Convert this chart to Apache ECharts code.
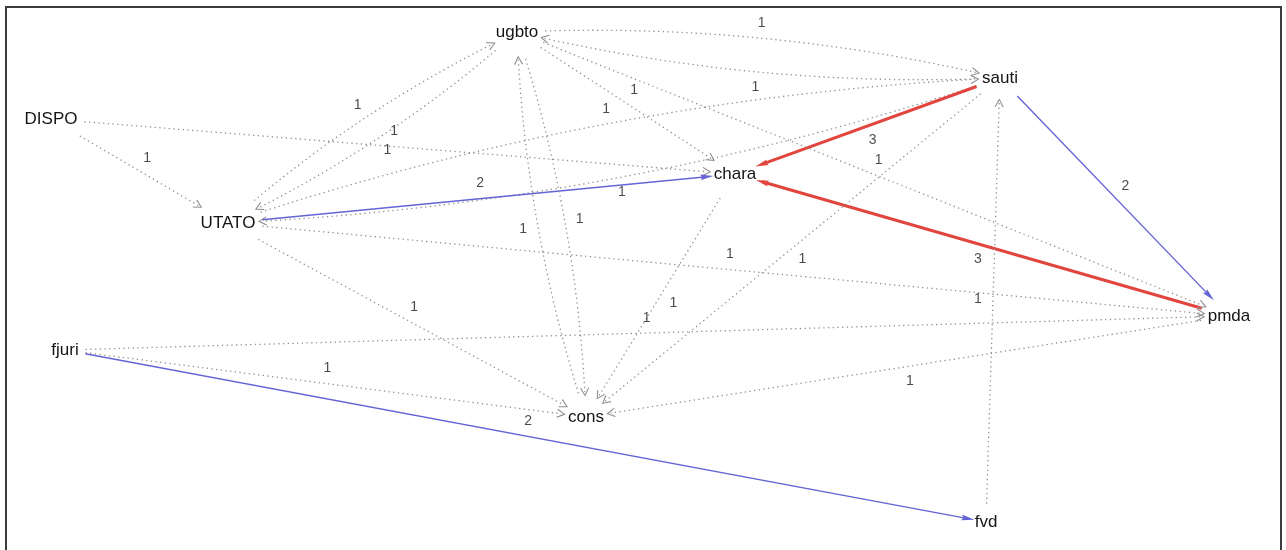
<!DOCTYPE html>
<html>
<head>
<meta charset="utf-8">
<title>network</title>
<script src="https://cdn.jsdelivr.net/npm/echarts@6/dist/echarts.min.js"></script>
<style>
  html, body { margin: 0; padding: 0; background: #fff; }
  #chart { width: 1286px; height: 550px; }
</style>
</head>
<body>
<div id="chart"></div>
<script>
// vertices and their layout position (picture space, y grows downward)
const nodeNames = ['ugbto', 'sauti', 'DISPO', 'chara', 'UTATO', 'pmda', 'fjuri', 'cons', 'fvd'];
const nodeX = [517, 1000, 51, 735, 228, 1229, 65, 586, 986];
const nodeY = [32, 78, 119, 174, 223, 316, 350, 417, 522];

// directed ties and their strength
const edgeFrom = ['ugbto', 'sauti', 'ugbto', 'UTATO', 'ugbto', 'UTATO', 'sauti', 'DISPO', 'DISPO',
  'sauti', 'UTATO', 'sauti', 'pmda', 'ugbto', 'ugbto', 'cons', 'UTATO', 'sauti', 'chara',
  'fjuri', 'UTATO', 'fvd', 'fjuri', 'pmda', 'fjuri'];
const edgeTo = ['sauti', 'ugbto', 'chara', 'ugbto', 'UTATO', 'sauti', 'UTATO', 'chara', 'UTATO',
  'chara', 'chara', 'pmda', 'chara', 'pmda', 'cons', 'ugbto', 'pmda', 'cons', 'cons',
  'pmda', 'cons', 'sauti', 'cons', 'cons', 'fvd'];
const edgeWeight = [1, 1, 1, 1, 1, 1, 1, 1, 1,
  3, 2, 2, 3, 1, 1, 1, 1, 1, 1,
  1, 1, 1, 1, 1, 2];

const FONT = '"Liberation Sans", Arial, sans-serif';
const CURVE = 0.07;        // bend of reciprocated ties
const LABEL_SHIFT = 15;    // edge label sits left of the travel direction

// look per tie strength
const weightStyle = {
  1: { color: '#8e8e8e', width: 1.3, type: [1.3, 3.4] },
  2: { color: '#6464d6', width: 1.4, type: 'solid' },
  3: { color: '#e2453e', width: 3, type: 'solid' }
};
const openArrow = 'path://M5,0 L10,9.2 L9,10 L5,2.4 L1,10 L0,9.2 Z';
const solidArrow = 'path://M10,0 L14.5,20 L10,17 L5.5,20 Z M0,0 L0.01,0 L0,0.01 Z M20,20 L19.99,20 L20,19.99 Z';

const chart = echarts.init(document.getElementById('chart'));

// label box of each vertex decides where ties stop
const ctx = document.createElement('canvas').getContext('2d');
ctx.font = '17px ' + FONT;

const idx = {};
nodeNames.forEach((n, i) => { idx[n] = i; });

const nodes = nodeNames.map((n, i) => ({
  name: n,
  value: [nodeX[i], nodeY[i]],
  symbolSize: ctx.measureText(n).width + 14
}));

const isMutual = (a, b) => edgeFrom.some((f, j) => f === b && edgeTo[j] === a);

const links = [];
const edgeLabels = [];
edgeFrom.forEach((f, i) => {
  const t = edgeTo[i];
  const w = edgeWeight[i];
  const st = weightStyle[w];
  const c = isMutual(f, t) ? CURVE : 0;
  links.push({
    source: f,
    target: t,
    value: w,
    symbol: ['circle', w > 1 ? solidArrow : openArrow],
    symbolSize: [0, w > 1 ? 13 : 9],
    lineStyle: { color: st.color, width: st.width, type: st.type, curveness: c, opacity: 1 }
  });
  // middle of the (possibly bent) tie, pushed to its left side
  const x1 = nodeX[idx[f]], y1 = nodeY[idx[f]];
  const x2 = nodeX[idx[t]], y2 = nodeY[idx[t]];
  const dx = x2 - x1, dy = y2 - y1;
  const len = Math.hypot(dx, dy);
  const mx = (x1 + x2) / 2 + c / 2 * dy;
  const my = (y1 + y2) / 2 - c / 2 * dx;
  edgeLabels.push([mx + LABEL_SHIFT * dy / len, my - LABEL_SHIFT * dx / len, w]);
});

const option = {
  animation: false,
  backgroundColor: '#fff',
  grid: { left: 0, right: 0, top: 0, bottom: 0 },
  xAxis: { type: 'value', min: 0, max: 1286, show: false },
  yAxis: { type: 'value', min: 0, max: 550, inverse: true, show: false },
  graphic: [{
    type: 'rect',
    silent: true,
    z: 100,
    shape: { x: 6, y: 7, width: 1275, height: 560 },
    style: { fill: 'none', stroke: '#3c3c3c', lineWidth: 2 }
  }],
  series: [
    {
      type: 'graph',
      coordinateSystem: 'cartesian2d',
      layout: 'none',
      silent: true,
      symbol: 'circle',
      itemStyle: { color: 'rgba(0,0,0,0)' },
      label: {
        show: true,
        position: 'inside',
        color: '#141414',
        fontSize: 17,
        fontFamily: FONT
      },
      edgeSymbol: ['circle', openArrow],
      edgeSymbolSize: [0, 9],
      emphasis: { disabled: true },
      data: nodes,
      links: links
    },
    {
      type: 'scatter',
      silent: true,
      symbolSize: 0,
      z: 5,
      data: edgeLabels,
      label: {
        show: true,
        position: 'inside',
        color: '#1c1c1c',
        fontSize: 14,
        fontFamily: FONT,
        formatter: p => p.value[2]
      }
    }
  ]
};

chart.setOption(option);
</script>
</body>
</html>
